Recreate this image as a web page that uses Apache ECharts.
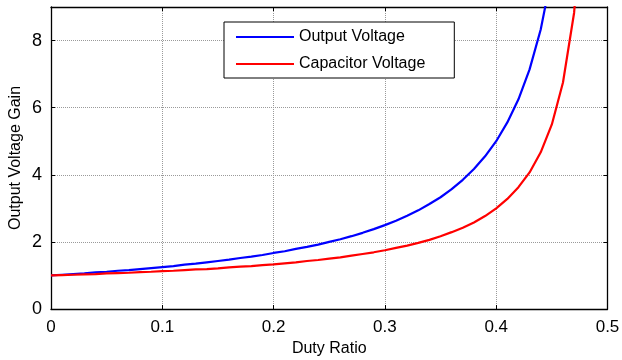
<!DOCTYPE html>
<html>
<head>
<meta charset="utf-8">
<script src="https://cdn.jsdelivr.net/npm/echarts@6/dist/echarts.min.js"></script>
<style>
html,body{margin:0;padding:0;background:#fff;}
#chart{width:622px;height:360px;}
</style>
</head>
<body>
<div id="chart"></div>
<script>
// Duty ratio samples
var dutyRatio = [0,0.01,0.02,0.03,0.04,0.05,0.06,0.07,0.08,0.09,0.10,0.11,0.12,0.13,0.14,0.15,0.16,0.17,0.18,0.19,0.20,0.21,0.22,0.23,0.24,0.25,0.26,0.27,0.28,0.29,0.30,0.31,0.32,0.33,0.34,0.35,0.36,0.37,0.38,0.39,0.40,0.41,0.42,0.43,0.44,0.45,0.46,0.47,0.48];
// Output Voltage gain (blue)
var outputVoltage = [1.00,1.02,1.04,1.06,1.09,1.11,1.14,1.16,1.19,1.22,1.25,1.28,1.32,1.35,1.39,1.43,1.47,1.52,1.56,1.61,1.67,1.72,1.79,1.85,1.92,2.00,2.08,2.17,2.27,2.38,2.50,2.63,2.78,2.94,3.13,3.33,3.57,3.85,4.17,4.55,5.00,5.56,6.25,7.14,8.33,10.0];
// Capacitor Voltage gain (red)
var capacitorVoltage = [1.00,1.01,1.02,1.03,1.04,1.06,1.07,1.08,1.10,1.11,1.13,1.14,1.16,1.18,1.19,1.21,1.24,1.26,1.28,1.31,1.33,1.36,1.39,1.43,1.46,1.50,1.54,1.59,1.64,1.69,1.75,1.82,1.89,1.97,2.06,2.17,2.29,2.42,2.58,2.77,3.00,3.28,3.63,4.07,4.67,5.50,6.75,8.83,13.0];
var xTicks = [0,0.1,0.2,0.3,0.4,0.5];
var yTicks = [0,2,4,6,8];

function pairs(ys){
  var out=[];
  for(var i=0;i<ys.length;i++){ out.push([dutyRatio[i], ys[i]]); }
  return out;
}

var FONT = '"Liberation Sans", Arial, sans-serif';
var chart = echarts.init(document.getElementById('chart'), null, {renderer:'canvas'});
var tickCommon = {show:true, inside:true, length:4, lineStyle:{color:'#000', width:1}};
chart.setOption({
  animation:false,
  backgroundColor:'#fff',
  grid:{left:51, right:14.5, top:7, bottom:51, show:false, containLabel:false, outerBoundsMode:'none'},
  legend:{
    left:224, top:22, orient:'vertical',
    backgroundColor:'#fff', borderColor:'#000', borderWidth:1, borderRadius:0,
    padding:[6,29,5,12],
    icon:'rect',
    itemWidth:58, itemHeight:2.2, itemGap:9,
    textStyle:{fontFamily:FONT, fontSize:16, color:'#000', lineHeight:18, height:18, padding:[0,0,0,0]},
    data:['Output Voltage','Capacitor Voltage']
  },
  xAxis:[{
    type:'value', min:0, max:0.5, interval:0.1,
    name:'Duty Ratio', nameLocation:'middle', nameGap:32, nameMoveOverlap:false,
    nameTextStyle:{fontFamily:FONT, fontSize:16, color:'#000'},
    axisLine:{show:true, onZero:false, lineStyle:{color:'#000', width:1.3}},
    axisTick:tickCommon,
    axisLabel:{fontFamily:FONT, fontSize:17, color:'#000', margin:10,
      formatter:function(v){ return xTicks.indexOf(Math.round(v*10)/10)>=0 ? String(Math.round(v*10)/10) : ''; }},
    splitLine:{show:true, lineStyle:{color:'#9a9a9a', type:[1,1], width:1}}
  },{
    type:'value', min:0, max:0.5, interval:0.1, position:'top',
    axisLine:{show:true, onZero:false, lineStyle:{color:'#000', width:1.3}},
    axisTick:tickCommon, axisLabel:{show:false}, splitLine:{show:false}
  }],
  yAxis:[{
    type:'value', min:0, max:9, interval:2,
    name:'Output Voltage Gain', nameLocation:'middle', nameGap:27, nameMoveOverlap:false,
    nameTextStyle:{fontFamily:FONT, fontSize:16, color:'#000'},
    axisLine:{show:true, onZero:false, lineStyle:{color:'#000', width:1.3}},
    axisTick:tickCommon,
    axisLabel:{fontFamily:FONT, fontSize:18, color:'#000', margin:9,
      formatter:function(v){ return yTicks.indexOf(v)>=0 ? String(v) : ''; }},
    splitLine:{show:true, lineStyle:{color:'#9a9a9a', type:[1,1], width:1}}
  },{
    type:'value', min:0, max:9, interval:2, position:'right',
    axisLine:{show:true, onZero:false, lineStyle:{color:'#000', width:1.3}},
    axisTick:tickCommon, axisLabel:{show:false}, splitLine:{show:false}
  }],
  series:[{
    name:'Output Voltage', type:'line', xAxisIndex:0, yAxisIndex:0,
    data:pairs(outputVoltage), symbol:'none', showSymbol:false, clip:true,
    lineStyle:{color:'#0000ff', width:2.2}, itemStyle:{color:'#0000ff'}
  },{
    name:'Capacitor Voltage', type:'line', xAxisIndex:0, yAxisIndex:0,
    data:pairs(capacitorVoltage), symbol:'none', showSymbol:false, clip:true,
    lineStyle:{color:'#ff0000', width:2.2}, itemStyle:{color:'#ff0000'}
  }]
});
</script>
</body>
</html>
